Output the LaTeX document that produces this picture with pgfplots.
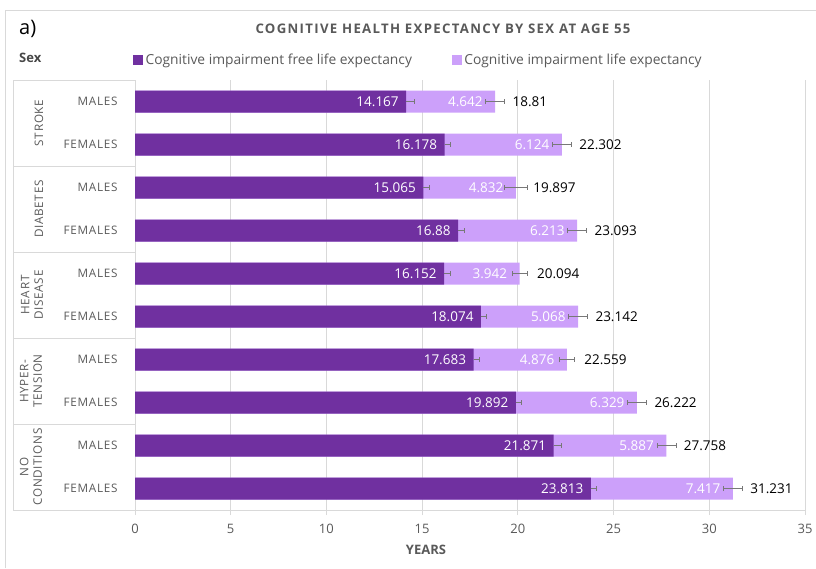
\documentclass[border=0pt]{standalone}
\usepackage{pgfplots}
\pgfplotsset{compat=1.18}
\usepackage{pgfplotstable}
\usepackage{fontspec}
\setmainfont{Open Sans}
\newfontfamily\spaced[LetterSpace=6]{Open Sans}
\newfontfamily\tspaced[LetterSpace=10]{Open Sans}
\definecolor{darkp}{RGB}{112,48,160}
\definecolor{lightp}{RGB}{204,160,250}
\definecolor{txt}{RGB}{89,89,89}
\definecolor{gridc}{RGB}{217,217,217}
\definecolor{errc}{RGB}{120,120,120}

\pgfplotstableread{
y dark derr light total terr
0 14.167 0.4 4.642 18.81 0.5
1 16.178 0.3 6.124 22.302 0.5
2 15.065 0.3 4.832 19.897 0.6
3 16.88 0.3 6.213 23.093 0.5
4 16.152 0.3 3.942 20.094 0.4
5 18.074 0.3 5.068 23.142 0.5
6 17.683 0.3 4.876 22.559 0.4
7 19.892 0.3 6.329 26.222 0.5
8 21.871 0.4 5.887 27.758 0.5
9 23.813 0.3 7.417 31.231 0.5
}\data

\begin{document}
\begin{tikzpicture}[x=1pt,y=1pt]
\path[use as bounding box] (0,0) rectangle (816,-568);
\draw[gridc] (5,-568) -- (5,-10) -- (816,-10);
\node[anchor=base west, inner sep=0, font=\fontsize{20}{22}\selectfont] at (19,-34) {a)};
\node[anchor=base, inner sep=0, text=txt, font=\tspaced\bfseries\fontsize{13.2}{15}\selectfont] at (443,-33) {COGNITIVE HEALTH EXPECTANCY BY SEX AT AGE 55};
\node[anchor=base west, inner sep=0, text=txt!80!black, font=\bfseries\fontsize{13}{15}\selectfont] at (19,-62) {Sex};

\begin{axis}[at={(135pt,-510pt)}, anchor=south west, scale only axis,
  width=670pt, height=430pt,
  xmin=0, xmax=35, ymin=-0.5, ymax=9.5, y dir=reverse,
  xtick distance=5, xmajorgrids, grid style={gridc, line width=0.8pt},
  axis x line*=bottom, axis y line*=left,
  axis line style={gridc, line width=0.8pt, -},
  ytick={0,...,9},
  yticklabels={MALES,FEMALES,MALES,FEMALES,MALES,FEMALES,MALES,FEMALES,MALES,FEMALES},
  tick align=outside, major tick length=5pt,
  xtick style={gridc, line width=0.8pt}, ytick style={draw=none},
  yticklabel style={font=\spaced\fontsize{11.7}{13}\selectfont, text=txt, xshift=-9pt},
  xticklabel style={font=\fontsize{13}{15}\selectfont, text=txt, yshift=-6pt},
  /pgf/number format/assume math mode=true,
  clip=false,
  legend style={at={(axis description cs:0,1)}, anchor=south west, xshift=-5pt, yshift=10pt,
    draw=none, fill=none, legend columns=2, font=\fontsize{13.8}{16}\selectfont, text=txt,
    /tikz/every even column/.append style={column sep=38pt}},
]
\addlegendimage{legend image code/.code={\fill[darkp] (0pt,-4.5pt) rectangle (9pt,4.5pt);}}
\addlegendentry{\hspace{1pt}Cognitive impairment free life expectancy}
\addlegendimage{legend image code/.code={\fill[lightp] (0pt,-4.5pt) rectangle (9pt,4.5pt);}}
\addlegendentry{\hspace{1pt}Cognitive impairment life expectancy}

\addplot[xbar, bar width=22pt, bar shift=0pt, fill=lightp, draw=none, forget plot,
  nodes near coords, point meta=explicit symbolic,
  every node near coord/.append style={anchor=east, text=white, xshift=-9pt, font=\fontsize{13.5}{15}\selectfont},
  error bars/.cd, x dir=both, x explicit,
  error bar style={errc, line width=0.6pt}, error mark options={errc, rotate=90, line width=0.6pt, mark size=2.5pt}]
  table[x=total, y=y, meta=light, x error=terr] {\data};
\addplot[xbar, bar width=22pt, bar shift=0pt, fill=darkp, draw=none, forget plot,
  nodes near coords, point meta=explicit symbolic,
  every node near coord/.append style={anchor=east, text=white, xshift=-4pt, font=\fontsize{13.5}{15}\selectfont},
  error bars/.cd, x dir=plus, x explicit,
  error bar style={errc, line width=0.6pt}, error mark options={errc, rotate=90, line width=0.6pt, mark size=2.5pt}]
  table[x=dark, y=y, meta=dark, x error=derr] {\data};
\addplot[draw=none, mark=none, forget plot,
  nodes near coords, point meta=explicit symbolic,
  every node near coord/.append style={anchor=west, text=black, xshift=14pt, font=\fontsize{13.5}{15}\selectfont}]
  table[x=total, y=y, meta=total] {\data};
\end{axis}

% category box lines
\foreach \yy in {80,166,252,338,424,510} {\draw[gridc, line width=0.8pt] (13,-\yy) -- (135,-\yy);}
\draw[gridc, line width=0.8pt] (13,-80) -- (13,-510);
\begin{scope}[every node/.style={rotate=90, text=txt, inner sep=0, align=center, font=\spaced\fontsize{11.7}{13.5}\selectfont}]
\node at (39,-123) {STROKE};
\node at (39,-209) {DIABETES};
\node at (32,-295) {HEART\\DISEASE};
\node at (31,-381) {HYPER-\\TENSION};
\node at (31,-467) {NO\\CONDITIONS};
\end{scope}
\node[text=txt, font=\bfseries\fontsize{13}{15}\selectfont] at (426,-550) {YEARS};
\end{tikzpicture}
\end{document}
